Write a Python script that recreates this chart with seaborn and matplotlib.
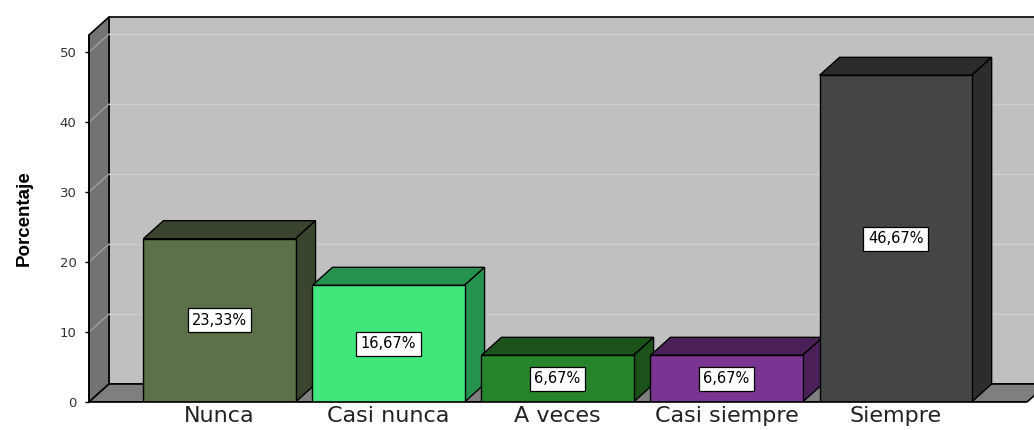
import matplotlib
matplotlib.use("Agg")
import matplotlib.pyplot as plt
from matplotlib.patches import Polygon
import seaborn as sns
import pandas as pd

categories = ["Nunca", "Casi nunca", "A veces", "Casi siempre", "Siempre"]
values = [23.33, 16.67, 6.67, 6.67, 46.67]
labels = ["23,33%", "16,67%", "6,67%", "6,67%", "46,67%"]
front_colors = ["#5c7049", "#40e87c", "#26852a", "#7a3491", "#444547"]
shade_colors = ["#39452e", "#25924d", "#1b5219", "#4b2058", "#2b2c2d"]
yticks = [0, 10, 20, 30, 40, 50]

sns.set_theme(style="white")
plt.rcParams['font.family'] = ['DejaVu Sans']
plt.rcParams['text.color'] = 'black'
plt.rcParams['xtick.color'] = 'black'
plt.rcParams['ytick.color'] = 'black'
plt.rcParams['axes.labelcolor'] = 'black'

W, H = 1034, 430
fig = plt.figure(figsize=(W / 100, H / 100), dpi=100)
ax = fig.add_axes([89 / W, 28 / H, 945 / W, 385 / H])

df = pd.DataFrame({"cat": categories, "val": values})
sns.barplot(data=df, x="cat", y="val", hue="cat", palette=front_colors,
            width=0.9, edgecolor="black", linewidth=1.0, legend=False,
            ax=ax, saturation=1)
bars = list(ax.patches)

ymax = 55.0
x0 = -0.772
xr = 4.819
dx = 20 / 169
dy = 18 / 7
ax.set_xlim(x0, xr)
ax.set_ylim(0, ymax)

# back wall
ax.add_patch(Polygon([(x0 + dx, dy), (x0 + dx, ymax), (xr + 1, ymax), (xr + 1, dy)],
                     closed=True, facecolor="#c0c0c0", edgecolor="black", lw=1.2, zorder=0.2,
                     clip_on=False))
# left wall
ax.add_patch(Polygon([(x0, 0), (x0, ymax - dy), (x0 + dx, ymax), (x0 + dx, dy)],
                     closed=True, facecolor="#737373", edgecolor="black", lw=1.2, zorder=0.3,
                     clip_on=False))
# floor
xf = 4.778
ax.add_patch(Polygon([(x0, 0), (x0 + dx, dy), (xf + dx, dy), (xf, 0)],
                     closed=True, facecolor="#7f7f7f", edgecolor="black", lw=1.2, zorder=0.4))
# gridlines
for t in yticks[1:]:
    ax.plot([x0 + dx, xr + 1], [t + dy, t + dy], color="#cecece", lw=1.0, zorder=0.5)
    ax.plot([x0, x0 + dx], [t, t + dy], color="#a0a0a0", lw=1.0, zorder=0.5)

# 3D bars
for i, p in enumerate(bars):
    x = p.get_x()
    w = p.get_width()
    h = p.get_height()
    z = 2 + i * 0.1
    p.set_zorder(z + 0.02)
    top = Polygon([(x, h), (x + dx, h + dy), (x + w + dx, h + dy), (x + w, h)], closed=True,
                  facecolor=shade_colors[i], edgecolor="black", lw=1.0, zorder=z)
    side = Polygon([(x + w, 0), (x + w, h), (x + w + dx, h + dy), (x + w + dx, dy)], closed=True,
                   facecolor=shade_colors[i], edgecolor="black", lw=1.0, zorder=z)
    ax.add_patch(top)
    ax.add_patch(side)
    ax.text(x + w / 2, h / 2, labels[i], ha="center", va="center", fontsize=10.5,
            color="black", zorder=z + 0.05,
            bbox=dict(boxstyle="square,pad=0.3", facecolor="white", edgecolor="black", lw=0.9))

# axis lines
ax.plot([x0, x0], [0, ymax - dy], color="black", lw=1.2, zorder=5, clip_on=False)
ax.plot([x0, xf], [0, 0], color="black", lw=1.2, zorder=5, clip_on=False)

for s in ax.spines.values():
    s.set_visible(False)

ax.set_yticks(yticks)
ax.set_yticklabels([str(t) for t in yticks], fontsize=9.5, color="#333333")
ax.tick_params(axis="y", length=3, width=1, color="black", direction="out", pad=6, left=True)
ax.set_xticks(range(len(categories)))
ax.set_xticklabels(categories, fontsize=16, color="#222222")
ax.tick_params(axis="x", length=0, pad=3)
ax.set_xlabel("")
ax.set_ylabel("Porcentaje", fontsize=13.5, fontweight="bold",
              family=["Liberation Sans"])
ax.yaxis.set_label_coords(-0.059, 0.478)
ax.grid(False)

fig.savefig("out.png", dpi=100, facecolor="white")
